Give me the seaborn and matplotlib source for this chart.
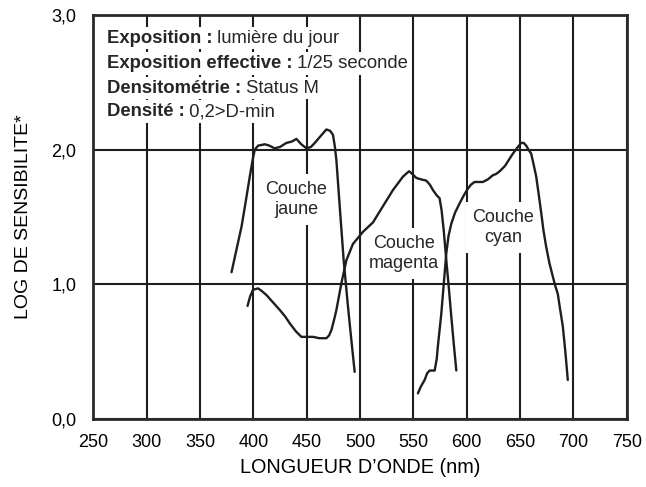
import numpy as np
import pandas as pd
import seaborn as sns
import matplotlib.pyplot as plt

# Spectral sensitivity curves (nm, log sensitivity)
jaune_nm = [379.6, 384, 389, 393, 396.7, 399.5, 401.4, 404.5, 410.8, 415, 420, 425, 431, 436,
            440.4, 445, 449.8, 454, 457.6, 463, 468.5, 472, 474.7, 476.5, 477.9, 481, 484.7,
            488.8, 492, 495]
jaune_log = [1.09, 1.25, 1.43, 1.62, 1.80, 1.93, 2.00, 2.03, 2.04, 2.03, 2.01, 2.02, 2.05, 2.06,
             2.08, 2.04, 2.01, 2.02, 2.05, 2.10, 2.15, 2.14, 2.11, 2.02, 1.92, 1.58, 1.18,
             0.83, 0.58, 0.35]

magenta_nm = [394.6, 397, 399.8, 404.5, 408, 412.4, 418, 424.8, 430, 434.2, 440, 445.1, 450, 456,
              462, 468.5, 471, 473.2, 475.5, 477.9, 482.6, 487.3, 493.4, 502.8, 512.2, 521.5,
              530.9, 540.3, 546, 549, 552.8, 557, 562.2, 565.5, 568.4, 572, 574.6, 576.5, 578.5,
              580.9, 583, 585.6, 588, 590.3]
magenta_log = [0.84, 0.91, 0.96, 0.97, 0.95, 0.92, 0.87, 0.81, 0.76, 0.71, 0.65, 0.61, 0.61, 0.61,
               0.60, 0.60, 0.62, 0.66, 0.73, 0.81, 1.01, 1.18, 1.30, 1.39, 1.46, 1.58,
               1.70, 1.80, 1.84, 1.82, 1.79, 1.78, 1.77, 1.74, 1.70, 1.66, 1.64, 1.55, 1.40,
               1.18, 1.00, 0.76, 0.55, 0.36]

cyan_nm = [554.3, 557, 560.6, 563, 565.3, 568, 570, 572, 573, 576.2, 578.5, 580.9, 583, 585.6, 589,
           593.3, 598, 601.1, 604, 607.4, 611, 615.2, 620, 624.5, 627.7, 631, 636, 640, 643.3,
           647, 651.1, 653.5, 655.8, 658, 660.5, 662.5, 665.2, 667.5, 669.9, 672, 674.5, 677.5,
           680.7, 683, 685.4, 687.5, 690.1, 692.5, 694.8]
cyan_log = [0.19, 0.24, 0.29, 0.34, 0.36, 0.36, 0.36, 0.45, 0.54, 0.78, 1.00, 1.23, 1.36, 1.45, 1.53,
            1.60, 1.67, 1.71, 1.74, 1.76, 1.76, 1.76, 1.78, 1.81, 1.82, 1.84, 1.88, 1.93, 1.97,
            2.01, 2.05, 2.05, 2.03, 2.00, 1.97, 1.90, 1.80, 1.67, 1.53, 1.40, 1.28, 1.16,
            1.06, 0.99, 0.93, 0.82, 0.69, 0.50, 0.29]

x_ticks = list(range(250, 751, 50))
y_ticks = [0, 1, 2, 3]
y_tick_labels = ['0,0', '1,0', '2,0', '3,0']

info_bold = ['Exposition :', 'Exposition effective :', 'Densitométrie :', 'Densité :']
info_regular = ['lumière du jour', '1/25 seconde', 'Status M', '0,2>D-min']

layer_labels = ['Couche\njaune', 'Couche\nmagenta', 'Couche\ncyan']
layer_label_pos = [(440.5, 1.63), (541, 1.23), (634.5, 1.42)]

sns.set_theme(style='white')
plt.rcParams['font.family'] = ['Liberation Sans', 'DejaVu Sans']

ink = '#1e1e1e'
fig, ax = plt.subplots(figsize=(6.46, 4.87), dpi=100)
fig.subplots_adjust(left=0.1444, right=0.9701, bottom=0.1396, top=0.9692)

curves = pd.concat([
    pd.DataFrame({'nm': jaune_nm, 'log': jaune_log, 'couche': 'jaune'}),
    pd.DataFrame({'nm': magenta_nm, 'log': magenta_log, 'couche': 'magenta'}),
    pd.DataFrame({'nm': cyan_nm, 'log': cyan_log, 'couche': 'cyan'}),
])
sns.lineplot(data=curves, x='nm', y='log', units='couche', estimator=None, sort=False,
             color=ink, linewidth=1.7, ax=ax, zorder=5, legend=False)

ax.set_xlim(250, 750)
ax.set_ylim(0, 3)
ax.set_xticks(x_ticks)
ax.set_yticks(y_ticks)
ax.set_yticklabels(y_tick_labels)
ax.tick_params(axis='both', length=0, labelsize=13, colors='black')
ax.tick_params(axis='x', pad=11)
ax.tick_params(axis='y', pad=12)
ax.grid(True, color=ink, linewidth=1.5)
ax.set_axisbelow(True)
for s in ax.spines.values():
    s.set_color('#2a2a2a')
    s.set_linewidth(2.0)

ax.set_xlabel('LONGUEUR D\u2019ONDE (nm)', fontsize=14.3, labelpad=5, color='black')
ax.set_ylabel('LOG DE SENSIBILITE*', fontsize=14, labelpad=14, color='black')

# info block: bold key followed by regular value, each line on its own white patch
line_y = [0.943, 0.880, 0.819, 0.761]
for b, r, yy in zip(info_bold, info_regular, line_y):
    t = ax.text(0.025, yy, b, transform=ax.transAxes, fontsize=13.3, fontweight='bold',
                va='center', ha='left', zorder=3.2,
                bbox=dict(facecolor='white', edgecolor='none', pad=2))
    ax.annotate(' ' + r, xy=(1, yy), xycoords=(t, 'axes fraction'), fontsize=13.3,
                va='center', ha='left', zorder=3.1,
                bbox=dict(facecolor='white', edgecolor='none', pad=2))

for lab, (xx, yy) in zip(layer_labels, layer_label_pos):
    ax.text(xx, yy, lab, fontsize=13, ha='center', va='center', linespacing=1.25,
            bbox=dict(facecolor='white', edgecolor='none', pad=5), zorder=3)

plt.savefig('out.png', dpi=100)
